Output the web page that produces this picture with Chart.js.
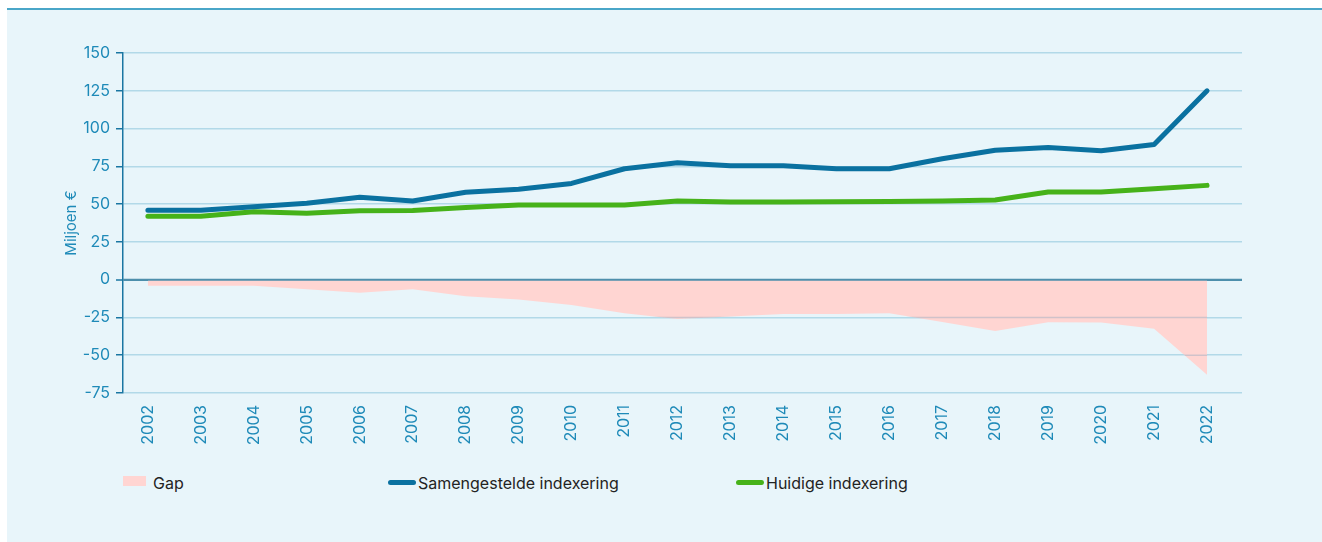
<!DOCTYPE html>
<html lang="nl">
<head>
<meta charset="utf-8">
<title>Gap indexering</title>
<script src="https://cdn.jsdelivr.net/npm/chart.js@4.4.1/dist/chart.umd.min.js"></script>
<style>
  html, body { margin: 0; padding: 0; background: #ffffff; }
  body { width: 1322px; height: 542px; position: relative; overflow: hidden; font-family: Inter, Roboto, "Noto Sans", sans-serif; }
  #panel { position: absolute; left: 7px; top: 8px; width: 1315px; height: 534px; background: #e8f5fa; border-top: 2px solid #4aa6c8; box-sizing: border-box; }
  #c { position: absolute; left: 0; top: 0; }
  .lg { position: absolute; font-size: 16px; color: #232323; line-height: 16px; }
  .sw { position: absolute; }
</style>
</head>
<body>
<div id="panel"></div>
<canvas id="c" width="1322" height="460"></canvas>
<div class="sw" style="left:123px;top:476px;width:23px;height:10px;background:#ffd5d2;"></div>
<div class="lg" id="lgGap" style="left:153px;top:475px;"></div>
<div class="sw" style="left:388px;top:480px;width:28px;height:5px;border-radius:3px;background:#0a71a0;"></div>
<div class="lg" id="lgSam" style="left:418px;top:475px;"></div>
<div class="sw" style="left:736px;top:480px;width:28px;height:5px;border-radius:3px;background:#46b219;"></div>
<div class="lg" id="lgHui" style="left:766px;top:475px;"></div>
<script>
// ---- data ----
const years = [2002, 2003, 2004, 2005, 2006, 2007, 2008, 2009, 2010, 2011, 2012, 2013, 2014, 2015, 2016, 2017, 2018, 2019, 2020, 2021, 2022];
const samengesteld = [46, 46, 48.3, 50.5, 54.5, 52, 57.8, 59.8, 63.7, 73.4, 77.3, 75.4, 75.4, 73.4, 73.4, 80, 85.7, 87.5, 85.3, 89.5, 125];
const huidig = [42, 42, 45, 44, 45.6, 45.8, 47.8, 49.4, 49.4, 49.4, 52, 51.4, 51.4, 51.6, 51.8, 52, 52.7, 58, 58, 60.2, 62.4];
const gap = [-4, -4, -4, -6.4, -8.6, -6.4, -11, -13.2, -16.7, -22.2, -26, -24.4, -22.7, -22.7, -22.2, -28, -33.9, -28.2, -28.3, -32.4, -63];
const yTicks = [-75, -50, -25, 0, 25, 50, 75, 100, 125, 150];
const seriesNames = ['Gap', 'Samengestelde indexering', 'Huidige indexering'];
const yTitle = 'Miljoen €';

document.getElementById('lgGap').textContent = seriesNames[0];
document.getElementById('lgSam').textContent = seriesNames[1];
document.getElementById('lgHui').textContent = seriesNames[2];

const BLUE = '#0a71a0';
const GREEN = '#46b219';
const PINK = '#ffd5d2';
const TICK_COLOR = '#1e8ab8';
const AXIS_COLOR = '#1a76a2';
const GRID_COLOR = '#b2d9e8';
const ZERO_COLOR = '#4e8fac';
const FONT = 'Inter';

const toXY = arr => arr.map((v, i) => ({ x: years[i], y: v }));

const gapGrid = {
  id: 'gapGrid',
  afterDatasetDraw(chart, args) {
    if (args.index !== 2) return;
    const pts = args.meta.data;
    const ys = chart.scales.y;
    const ctx = chart.ctx;
    const area = chart.chartArea;
    const zero = ys.getPixelForValue(0);
    ctx.save();
    ctx.beginPath();
    ctx.moveTo(pts[0].x, zero);
    pts.forEach(p => ctx.lineTo(p.x, p.y));
    ctx.lineTo(pts[pts.length - 1].x, zero);
    ctx.closePath();
    ctx.clip();
    ctx.strokeStyle = 'rgba(120,160,190,0.35)';
    ctx.lineWidth = 1.5;
    ys.ticks.forEach(t => {
      if (t.value >= 0) return;
      const y = ys.getPixelForValue(t.value);
      ctx.beginPath();
      ctx.moveTo(area.left, y);
      ctx.lineTo(area.right, y);
      ctx.stroke();
    });
    ctx.restore();
    ctx.save();
    ctx.strokeStyle = ZERO_COLOR;
    ctx.lineWidth = 2;
    ctx.beginPath();
    ctx.moveTo(area.left, zero);
    ctx.lineTo(area.right, zero);
    ctx.stroke();
    ctx.restore();
  }
};

new Chart(document.getElementById('c'), {
  type: 'line',
  data: {
    datasets: [
      {
        label: seriesNames[1],
        data: toXY(samengesteld),
        borderColor: BLUE,
        borderWidth: 5,
        borderCapStyle: 'round',
        borderJoinStyle: 'round',
        pointRadius: 0,
        fill: false,
        tension: 0
      },
      {
        label: seriesNames[2],
        data: toXY(huidig),
        borderColor: GREEN,
        borderWidth: 5,
        borderCapStyle: 'round',
        borderJoinStyle: 'round',
        pointRadius: 0,
        fill: false,
        tension: 0
      },
      {
        label: seriesNames[0],
        data: toXY(gap),
        borderWidth: 0,
        borderColor: 'rgba(0,0,0,0)',
        backgroundColor: PINK,
        pointRadius: 0,
        fill: 'origin',
        tension: 0
      }
    ]
  },
  plugins: [gapGrid],
  options: {
    responsive: false,
    animation: false,
    events: [],
    layout: { padding: { left: 55, right: 80, top: 53, bottom: 0 } },
    plugins: {
      legend: { display: false },
      tooltip: { enabled: false },
      title: { display: false }
    },
    scales: {
      x: {
        type: 'linear',
        min: 2001.53,
        max: 2022.66,
        afterBuildTicks: s => { s.ticks = years.map(v => ({ value: v })); },
        afterFit: s => { s.height = 67; },
        grid: { display: false, drawTicks: false },
        border: { display: false },
        ticks: {
          autoSkip: false,
          maxRotation: 90,
          minRotation: 90,
          padding: 12,
          color: TICK_COLOR,
          font: { family: FONT, size: 16 },
          callback: v => String(v)
        }
      },
      y: {
        min: -75,
        max: 150,
        afterBuildTicks: s => { s.ticks = yTicks.map(v => ({ value: v })); },
        afterFit: s => { s.width = 68; },
        grid: {
          color: c => (c.tick && c.tick.value === 0 ? ZERO_COLOR : GRID_COLOR),
          lineWidth: c => (c.tick && c.tick.value === 0 ? 2 : 1.5),
          drawTicks: true,
          tickLength: 7,
          tickColor: AXIS_COLOR,
          tickWidth: 1.5
        },
        border: { display: true, color: AXIS_COLOR, width: 1.5 },
        ticks: {
          padding: 6,
          color: TICK_COLOR,
          font: { family: FONT, size: 16 }
        },
        title: {
          display: true,
          text: yTitle,
          color: TICK_COLOR,
          font: { family: FONT, size: 15 },
          padding: { top: 7, bottom: 0 }
        }
      }
    }
  }
});
</script>
</body>
</html>
